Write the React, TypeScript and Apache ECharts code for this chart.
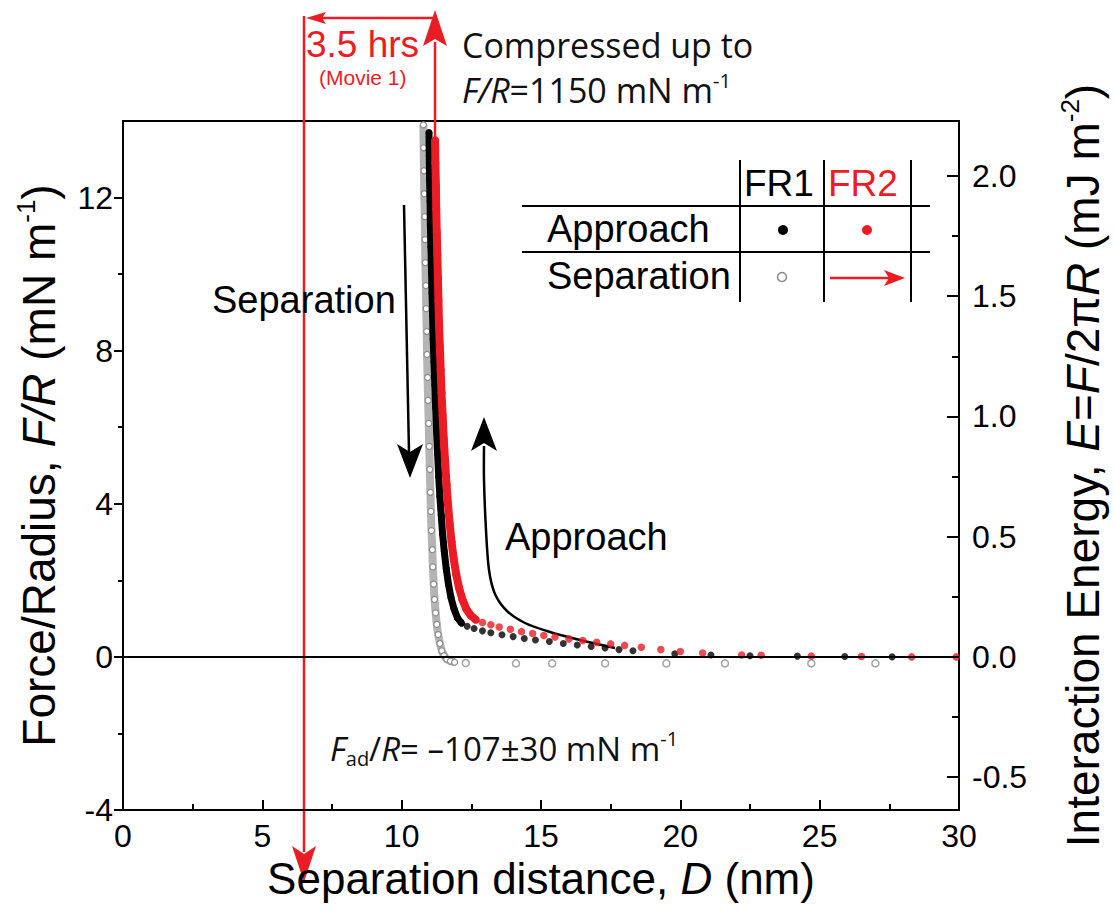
import React, { useEffect, useRef } from "react";
import * as echarts from "echarts";

// ---------- axis ticks ----------
const xRange = [0, 30];
const xInterval = 5;
const forceRange = [-4, 14];
const forceTicks = [-4, 0, 4, 8, 12];
const forceMinorTicks = [-2, 2, 6, 10];
const energyTicks = [-0.5, 0, 0.5, 1.0, 1.5, 2.0];
const energyMinorTicks = [-0.25, 0.25, 0.75, 1.25, 1.75];

// ---------- data: [D (nm), F/R (mN/m)] ----------
const fr1SeparationSteep: number[][] = [
  [10.78, 13.9], [10.79, 13.3], [10.8, 12.7], [10.81, 12.1], [10.83, 11.5], [10.84, 10.9],
  [10.85, 10.3], [10.87, 9.7], [10.88, 9.1], [10.9, 8.5], [10.91, 7.9], [10.93, 7.3],
  [10.95, 6.7], [10.97, 6.1], [10.99, 5.5], [11.01, 4.9], [11.03, 4.3], [11.05, 3.8],
  [11.07, 3.3], [11.1, 2.8], [11.12, 2.35], [11.15, 1.9], [11.18, 1.5], [11.22, 1.15],
  [11.26, 0.85], [11.31, 0.58], [11.37, 0.35], [11.44, 0.16], [11.52, 0.03], [11.62, -0.06],
  [11.75, -0.11], [11.9, -0.14],
];
const fr1SeparationTail: number[][] = [
  [12.3, -0.16], [14.1, -0.17], [15.4, -0.17], [17.3, -0.17], [19.5, -0.17],
  [21.6, -0.17], [24.7, -0.17], [27.0, -0.17],
];
const fr1ApproachSteep: number[][] = [
  [10.98, 13.7], [10.99, 13.1], [11.0, 12.5], [11.02, 11.9], [11.03, 11.3], [11.05, 10.7],
  [11.07, 10.1], [11.09, 9.5], [11.11, 8.9], [11.13, 8.3], [11.16, 7.7], [11.19, 7.1],
  [11.22, 6.5], [11.25, 5.9], [11.29, 5.3], [11.33, 4.7], [11.37, 4.2], [11.42, 3.7],
  [11.47, 3.2], [11.53, 2.75], [11.6, 2.3], [11.68, 1.9], [11.77, 1.55], [11.88, 1.25],
  [12.0, 1.02], [12.15, 0.88],
];
const fr1ApproachTail: number[][] = [
  [12.35, 0.8], [12.6, 0.74], [12.9, 0.68], [13.2, 0.63], [13.6, 0.58], [14.0, 0.53],
  [14.4, 0.48], [14.8, 0.44], [15.3, 0.4], [15.8, 0.35], [16.3, 0.31], [16.8, 0.27],
  [17.3, 0.23], [17.8, 0.19], [18.3, 0.16], [19.8, 0.08], [21.1, 0.05], [22.5, 0.03],
  [24.2, 0.02], [25.9, 0.01], [27.6, 0.0],
];
const fr2ApproachSteep: number[][] = [
  [11.2, 13.5], [11.21, 12.9], [11.23, 12.3], [11.24, 11.7], [11.26, 11.1], [11.28, 10.5],
  [11.3, 9.9], [11.32, 9.3], [11.34, 8.7], [11.37, 8.1], [11.4, 7.5], [11.43, 6.9],
  [11.47, 6.3], [11.51, 5.7], [11.56, 5.1], [11.61, 4.5], [11.66, 4.0], [11.72, 3.5],
  [11.79, 3.0], [11.87, 2.55], [11.96, 2.15], [12.06, 1.8], [12.18, 1.5], [12.32, 1.25],
  [12.48, 1.08], [12.66, 0.97],
];
const fr2ApproachTail: number[][] = [
  [12.9, 0.9], [13.2, 0.84], [13.5, 0.78], [13.9, 0.72], [14.3, 0.66], [14.7, 0.61],
  [15.1, 0.56], [15.5, 0.52], [16.0, 0.47], [16.5, 0.43], [17.0, 0.38], [17.5, 0.34],
  [18.0, 0.3], [18.6, 0.25], [19.3, 0.19], [20.0, 0.14], [20.8, 0.1], [22.2, 0.05],
  [22.9, 0.04], [24.7, 0.02], [26.5, 0.01], [28.3, 0.0], [29.9, 0.0],
];

// annotation positions in data units
const movieStartD = 6.5;
const compressedD = 11.2;

const RED = "#ec1c24";
const SANS = "'Liberation Sans', Arial, sans-serif";
const MYRIAD = "'Open Sans', 'Noto Sans', sans-serif";

const GRID = { left: 123, right: 154, top: 121, bottom: 108 };
const W = 1114;
const H = 918;

export default function App() {
  const ref = useRef<HTMLDivElement>(null);

  useEffect(() => {
    if (!ref.current) return;
    const chart = echarts.init(ref.current, undefined, { renderer: "svg" });
    const plotW = W - GRID.left - GRID.right;
    const px = (d: number) => GRID.left + ((d - xRange[0]) / (xRange[1] - xRange[0])) * plotW;
    const xL = Math.round(px(movieStartD));
    const xU = Math.round(px(compressedD));
    const twoPi = 2 * Math.PI;

    const baseAxisLabel = { color: "#000", fontFamily: SANS, fontSize: 32 };

    const arrowHead = (tip: number[], b1: number[], notch: number[], b2: number[], color: string) => ({
      type: "polygon",
      shape: { points: [tip, b1, notch, b2] },
      style: { fill: color },
      silent: true,
    });

    const graphic: any[] = [
      // red time arrows
      { type: "line", shape: { x1: xL, y1: 16, x2: xL, y2: 852 }, style: { stroke: RED, lineWidth: 2.5 } },
      arrowHead([xL, 882], [xL - 12, 846], [xL, 854], [xL + 12, 846], RED),
      { type: "line", shape: { x1: xU, y1: 140, x2: xU, y2: 42 }, style: { stroke: RED, lineWidth: 2.5 } },
      arrowHead([xU, 10], [xU - 12, 46], [xU, 39], [xU + 12, 46], RED),
      { type: "line", shape: { x1: xU, y1: 18, x2: xL + 14, y2: 18 }, style: { stroke: RED, lineWidth: 2.5 } },
      arrowHead([xL + 2, 18], [xL + 22, 12], [xL + 18, 18], [xL + 22, 24], RED),
      { type: "text", x: xL + 2, y: 44, style: { text: "3.5 hrs", fill: RED, font: `37px ${SANS}`, textAlign: "left", textVerticalAlign: "middle" } },
      { type: "text", x: xL + 15, y: 77, style: { text: "(Movie 1)", fill: RED, font: `21px ${SANS}`, textAlign: "left", textVerticalAlign: "middle" } },
      // compressed text
      { type: "text", x: 462, y: 45, style: { text: "Compressed up to", fill: "#111", font: `34px ${MYRIAD}`, textAlign: "left", textVerticalAlign: "middle" } },
      {
        type: "text", x: 462, y: 90,
        style: {
          text: "{i|F/R}{n|=1150 mN m}{s|-1}", fill: "#111", textAlign: "left", textVerticalAlign: "middle",
          font: `34px ${MYRIAD}`,
          rich: {
            i: { fontFamily: MYRIAD, fontSize: 34, fontStyle: "italic", fill: "#111", lineHeight: 40 },
            n: { fontFamily: MYRIAD, fontSize: 34, fill: "#111", lineHeight: 40 },
            s: { fontFamily: MYRIAD, fontSize: 20, fill: "#111", verticalAlign: "top", lineHeight: 22 },
          },
        },
      },
      // adhesion text
      {
        type: "text", x: 330, y: 748,
        style: {
          text: "{i|F}{b|ad}{n|/}{i|R}{n|= \u2013107\u00b130 mN m}{s|-1}", fill: "#111", textAlign: "left", textVerticalAlign: "middle",
          font: `33px ${MYRIAD}`,
          rich: {
            i: { fontFamily: MYRIAD, fontSize: 33, fontStyle: "italic", fill: "#111", lineHeight: 40 },
            n: { fontFamily: MYRIAD, fontSize: 33, fill: "#111", lineHeight: 40 },
            b: { fontFamily: MYRIAD, fontSize: 20, fill: "#111", verticalAlign: "bottom", lineHeight: 22 },
            s: { fontFamily: MYRIAD, fontSize: 20, fill: "#111", verticalAlign: "top", lineHeight: 22 },
          },
        },
      },
      // Separation arrow
      { type: "text", x: 212, y: 300, style: { text: "Separation", fill: "#000", font: `38px ${SANS}`, textAlign: "left", textVerticalAlign: "middle" } },
      { type: "line", shape: { x1: 404, y1: 205, x2: 409, y2: 452 }, style: { stroke: "#000", lineWidth: 2.5 } },
      arrowHead([410, 478], [397, 444], [410, 452], [423, 444], "#000"),
      // Approach arrow
      { type: "text", x: 505, y: 537, style: { text: "Approach", fill: "#000", font: `38px ${SANS}`, textAlign: "left", textVerticalAlign: "middle" } },
      {
        type: "polyline",
        shape: { points: [[615, 648], [580, 640], [550, 632], [525, 623], [507, 611], [495, 594], [489, 570], [486, 530], [484, 480], [484, 446]], smooth: 0.3 },
        style: { stroke: "#000", lineWidth: 2.5, fill: "none" },
      },
      arrowHead([484, 417], [471, 451], [484, 443], [497, 451], "#000"),
      // legend table
      { type: "line", shape: { x1: 522, y1: 206, x2: 930, y2: 206 }, style: { stroke: "#000", lineWidth: 2 } },
      { type: "line", shape: { x1: 522, y1: 252, x2: 930, y2: 252 }, style: { stroke: "#000", lineWidth: 2 } },
      { type: "line", shape: { x1: 740, y1: 160, x2: 740, y2: 302 }, style: { stroke: "#000", lineWidth: 2 } },
      { type: "line", shape: { x1: 824, y1: 160, x2: 824, y2: 302 }, style: { stroke: "#000", lineWidth: 2 } },
      { type: "line", shape: { x1: 911, y1: 160, x2: 911, y2: 302 }, style: { stroke: "#000", lineWidth: 2 } },
      { type: "text", x: 744, y: 183, style: { text: "FR1", fill: "#000", font: `37px ${SANS}`, textAlign: "left", textVerticalAlign: "middle" } },
      { type: "text", x: 828, y: 183, style: { text: "FR2", fill: RED, font: `37px ${SANS}`, textAlign: "left", textVerticalAlign: "middle" } },
      { type: "text", x: 547, y: 229, style: { text: "Approach", fill: "#000", font: `38px ${SANS}`, textAlign: "left", textVerticalAlign: "middle" } },
      { type: "text", x: 547, y: 276, style: { text: "Separation", fill: "#000", font: `38px ${SANS}`, textAlign: "left", textVerticalAlign: "middle" } },
      { type: "circle", shape: { cx: 783, cy: 230, r: 5 }, style: { fill: "#000" } },
      { type: "circle", shape: { cx: 867, cy: 230, r: 5 }, style: { fill: RED } },
      { type: "circle", shape: { cx: 782, cy: 277, r: 4.5 }, style: { fill: "#fff", stroke: "#888", lineWidth: 1.5 } },
      { type: "line", shape: { x1: 830, y1: 278, x2: 890, y2: 278 }, style: { stroke: RED, lineWidth: 2.5 } },
      arrowHead([905, 278], [884, 270], [889, 278], [884, 286], RED),
    ];

    const steepSeries = (name: string, data: number[][], lineColor: string, width: number, item: any, size: number, z: number) => ({
      name, type: "line", data, xAxisIndex: 0, yAxisIndex: 0, showSymbol: true, symbol: "circle", symbolSize: size,
      lineStyle: { color: lineColor, width }, itemStyle: item, z, silent: true,
    });
    const tailSeries = (name: string, data: number[][], item: any, size: number, z: number, symbol = "circle") => ({
      name, type: "scatter", data, xAxisIndex: 0, yAxisIndex: 0, symbol, symbolSize: size, itemStyle: item, z, silent: true,
    });

    chart.setOption({
      animation: false,
      backgroundColor: "#fff",
      grid: { ...GRID, show: true, borderColor: "#000", borderWidth: 2, backgroundColor: "transparent" },
      xAxis: {
        type: "value", min: xRange[0], max: xRange[1], interval: xInterval,
        axisLine: { show: true, onZero: false, lineStyle: { color: "#000", width: 2 } },
        axisTick: { show: true, inside: true, length: 10, lineStyle: { color: "#000", width: 2 } },
        minorTick: { show: true, splitNumber: 2, length: 6, lineStyle: { color: "#000", width: 2 } },
        splitLine: { show: false },
        axisLabel: { ...baseAxisLabel, margin: 10 },
        name: "Separation distance, {i|D} (nm)", nameLocation: "middle", nameGap: 46,
        nameTextStyle: {
          color: "#000", fontFamily: SANS, fontSize: 44,
          rich: { i: { fontFamily: SANS, fontSize: 44, fontStyle: "italic", color: "#000" } },
        },
      },
      yAxis: [
        {
          type: "value", min: forceRange[0], max: forceRange[1], position: "left",
          axisLine: { show: true, onZero: false, lineStyle: { color: "#000", width: 2 } },
          axisTick: { show: true, inside: false, length: 9, customValues: forceTicks, lineStyle: { color: "#000", width: 2 } },
          splitLine: { show: false },
          axisLabel: { ...baseAxisLabel, margin: 10, customValues: forceTicks },
          name: "Force/Radius, {i|F/R} (mN m{s|-1})", nameLocation: "middle", nameGap: 58, nameRotate: 90,
          nameTextStyle: {
            color: "#000", fontFamily: SANS, fontSize: 46,
            rich: {
              i: { fontFamily: SANS, fontSize: 46, fontStyle: "italic", color: "#000", lineHeight: 52 },
              s: { fontFamily: SANS, fontSize: 26, color: "#000", verticalAlign: "top", lineHeight: 28 },
            },
          },
        },
        {
          type: "value", min: forceRange[0], max: forceRange[1], position: "left",
          axisLine: { show: false },
          axisTick: { show: true, inside: false, length: 5, customValues: forceMinorTicks, lineStyle: { color: "#000", width: 2 } },
          axisLabel: { show: false }, splitLine: { show: false },
        },
        {
          type: "value", min: forceRange[0], max: forceRange[1], position: "right",
          axisLine: { show: true, onZero: false, lineStyle: { color: "#000", width: 2 } },
          axisTick: { show: true, inside: true, length: 12, customValues: energyTicks.map((e) => e * twoPi), lineStyle: { color: "#000", width: 2 } },
          splitLine: { show: false },
          axisLabel: {
            ...baseAxisLabel, margin: 13, customValues: energyTicks.map((e) => e * twoPi),
            formatter: (v: number) => (Math.abs(v) < 1e-9 ? 0 : v / twoPi).toFixed(1),
          },
          name: "Interaction Energy, {i|E}={i|F}/2\u03c0{i|R} (mJ m{s|-2})", nameLocation: "middle", nameGap: 98, nameRotate: 90,
          nameTextStyle: {
            color: "#000", fontFamily: SANS, fontSize: 46,
            rich: {
              i: { fontFamily: SANS, fontSize: 46, fontStyle: "italic", color: "#000", lineHeight: 52 },
              s: { fontFamily: SANS, fontSize: 26, color: "#000", verticalAlign: "top", lineHeight: 28 },
            },
          },
        },
        {
          type: "value", min: forceRange[0], max: forceRange[1], position: "right",
          axisLine: { show: false },
          axisTick: { show: true, inside: true, length: 7, customValues: energyMinorTicks.map((e) => e * twoPi), lineStyle: { color: "#000", width: 2 } },
          axisLabel: { show: false }, splitLine: { show: false },
        },
      ],
      series: [
        {
          name: "zero", type: "line", data: [], xAxisIndex: 0, yAxisIndex: 0, z: 1, silent: true,
          markLine: {
            silent: true, symbol: ["none", "none"], label: { show: false },
            lineStyle: { color: "#000", width: 2, type: "solid" },
            data: [{ yAxis: 0 }],
          },
        },
        steepSeries("FR1 separation", fr1SeparationSteep, "#b4b4b4", 8, { color: "#fff", borderColor: "#8c8c8c", borderWidth: 1.2 }, 6, 2),
        tailSeries("FR1 separation tail", fr1SeparationTail, { color: "#fff", borderColor: "#8c8c8c", borderWidth: 1.5 }, 7, 2),
        steepSeries("FR1 approach", fr1ApproachSteep, "#000", 7, { color: "#000" }, 7, 3),
        tailSeries("FR1 approach tail", fr1ApproachTail, { color: "#000" }, 7, 3),
        steepSeries("FR2 approach", fr2ApproachSteep, RED, 8, { color: RED }, 8, 4),
        tailSeries("FR2 approach tail", fr2ApproachTail, { color: RED }, 7.5, 4),
      ],
      graphic,
    });

    return () => chart.dispose();
  }, []);

  return (
    <div
      ref={ref}
      style={{ position: "absolute", left: 0, top: 0, width: W, height: H, background: "#fff" }}
    />
  );
}
